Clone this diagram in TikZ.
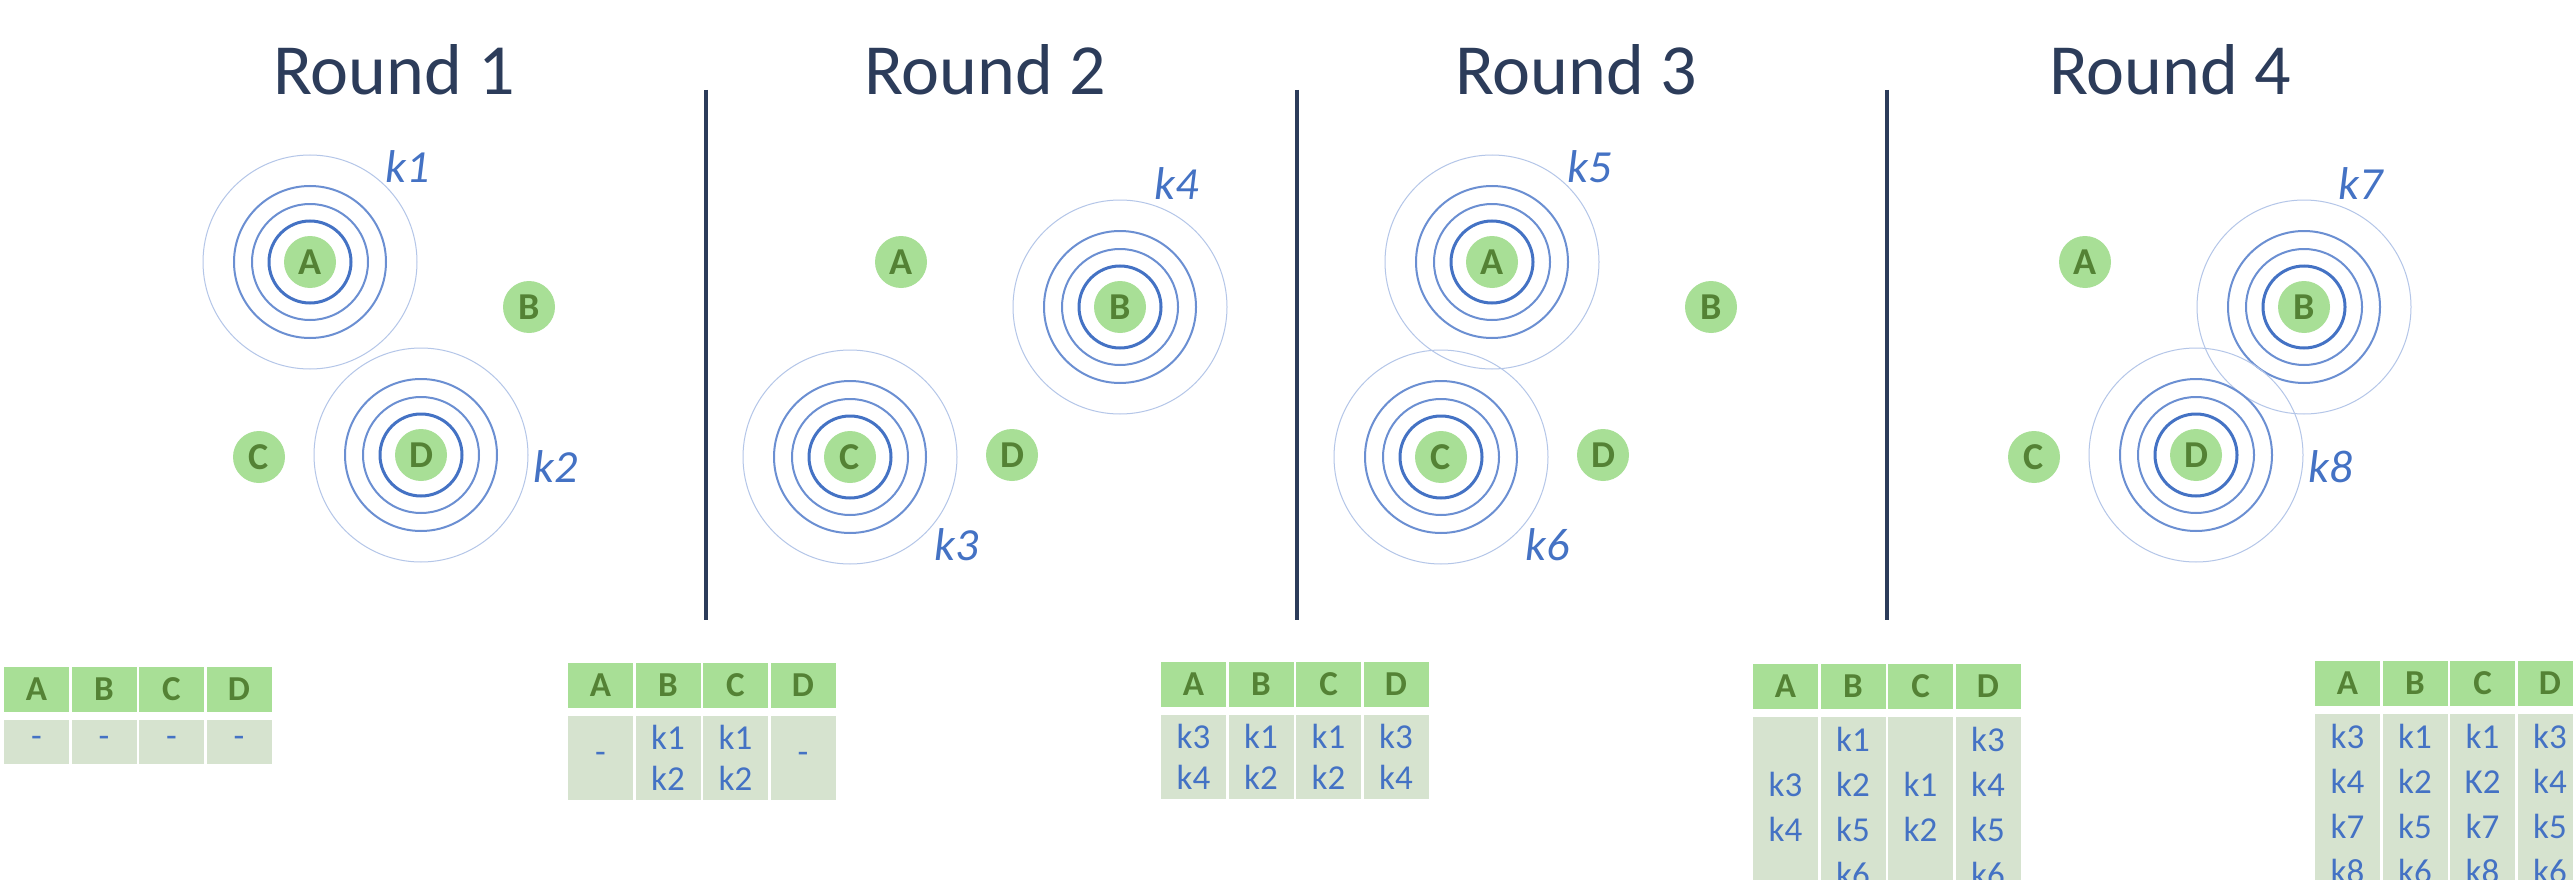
\documentclass[tikz,border=0pt]{standalone}
\usepackage{fontspec}
\setmainfont{Carlito}
\definecolor{navy}{HTML}{2C3C5A}
\definecolor{gfill}{HTML}{A8DF96}
\definecolor{gtext}{HTML}{548235}
\definecolor{bfill}{HTML}{D6E3CF}
\definecolor{kblue}{HTML}{4472C4}
\definecolor{ringmid}{HTML}{6B8FD2}
\definecolor{ringout}{HTML}{B4C6E8}
\newcommand\roundpts[2]{%
  \node[ptnode] (#1A) at (310+#2,262) {A};
  \node[ptnode] (#1B) at (529+#2,307) {B};
  \node[ptnode] (#1C) at (259+#2,457) {C};
  \node[ptnode] (#1D) at (421+#2,455) {D};}
\newcommand\ringset[1]{%
  \draw[ringa] (#1) circle[radius=41pt];
  \draw[ringb] (#1) circle[radius=58pt];
  \draw[ringb] (#1) circle[radius=76pt];
  \draw[ringc] (#1) circle[radius=107pt];}
\newcommand\headrow[3]{%
  \foreach \L [count=\i from 0] in {A,B,C,D}
    \node[hcell] (#1h\L) at (#2+32.5+67.5*\i,#3) {\L};}
\begin{document}
\begin{tikzpicture}[x=1pt,y=-1pt,
  title/.style={font=\fontsize{72}{80}\selectfont, text=navy, anchor=base, inner sep=0pt},
  ptnode/.style={circle, fill=gfill, minimum size=52pt, inner sep=0pt, text=gtext, font=\fontsize{38}{40}\selectfont\bfseries},
  klab/.style={font=\fontsize{46}{50}\selectfont\itshape, text=kblue, inner sep=0pt},
  ringa/.style={draw=kblue, line width=3pt},
  ringb/.style={draw=ringmid, line width=2pt},
  ringc/.style={draw=ringout, line width=1pt},
  sep/.style={draw=navy, line width=4.5pt},
  hcell/.style={rectangle, fill=gfill, minimum width=65pt, minimum height=45pt, inner sep=0pt, text=gtext, font=\fontsize{35}{40}\selectfont\bfseries},
  bcell/.style={rectangle, fill=bfill, minimum width=65pt, inner sep=0pt, text=kblue, align=center, font=\fontsize{35}{41}\selectfont},
  bcellL/.style={bcell, font=\fontsize{35}{45}\selectfont},
]
\useasboundingbox (0,0) rectangle (2573,880);
\fill[white] (0,0) rectangle (2573,880);
\clip (0,0) rectangle (2573,880);

% titles
\node[title] (r1) at (394,95) {Round 1};
\node[title] (r2) at (985,95) {Round 2};
\node[title] (r3) at (1576,95) {Round 3};
\node[title] (r4) at (2170,95) {Round 4};

% separators
\coordinate (s1t) at (706,90);  \coordinate (s1b) at (706,620);
\coordinate (s2t) at (1297,90); \coordinate (s2b) at (1297,620);
\coordinate (s3t) at (1887,90); \coordinate (s3b) at (1887,620);
\draw[sep] (s1t) -- (s1b);
\draw[sep] (s2t) -- (s2b);
\draw[sep] (s3t) -- (s3b);

% points
\roundpts{a}{0}
\roundpts{b}{591}
\roundpts{c}{1182}
\roundpts{d}{1775}

% rings
\ringset{aA}\ringset{aD}
\ringset{bB}\ringset{bC}
\ringset{cA}\ringset{cC}
\ringset{dB}\ringset{dD}

% key labels
\node[klab] (k1) at (408,167) {k1};
\node[klab] (k2) at (556,467) {k2};
\node[klab] (k4) at (1177,184) {k4};
\node[klab] (k3) at (957,545) {k3};
\node[klab] (k5) at (1590,167) {k5};
\node[klab] (k6) at (1548,545) {k6};
\node[klab] (k7) at (2361,184) {k7};
\node[klab] (k8) at (2331,467) {k8};

% table 1
\headrow{ta}{4}{689.5}
\node[bcell, minimum height=44pt] (tabA) at (36.5,742) {-};
\node[bcell, minimum height=44pt] (tabB) at (104,742) {-};
\node[bcell, minimum height=44pt] (tabC) at (171.5,742) {-};
\node[bcell, minimum height=44pt] (tabD) at (239,742) {-};

% table 2
\headrow{tb}{568}{685.5}
\node[bcell, minimum height=84pt] (tbbA) at (600.5,758) {-};
\node[bcell, minimum height=84pt] (tbbB) at (668,758) {k1\\k2};
\node[bcell, minimum height=84pt] (tbbC) at (735.5,758) {k1\\k2};
\node[bcell, minimum height=84pt] (tbbD) at (803,758) {-};

% table 3
\headrow{tc}{1161}{684}
\node[bcell, minimum height=84pt] (tcbA) at (1193.5,757) {k3\\k4};
\node[bcell, minimum height=84pt] (tcbB) at (1261,757) {k1\\k2};
\node[bcell, minimum height=84pt] (tcbC) at (1328.5,757) {k1\\k2};
\node[bcell, minimum height=84pt] (tcbD) at (1396,757) {k3\\k4};

% table 4
\headrow{td}{1753}{686.5}
\node[bcellL, minimum height=180pt] (tdbA) at (1785.5,807) {k3\\k4};
\node[bcellL, minimum height=180pt] (tdbB) at (1853,807) {k1\\k2\\k5\\k6};
\node[bcellL, minimum height=180pt] (tdbC) at (1920.5,807) {k1\\k2};
\node[bcellL, minimum height=180pt] (tdbD) at (1988,807) {k3\\k4\\k5\\k6};

% table 5
\headrow{te}{2315}{683.5}
\node[bcellL, minimum height=180pt] (tebA) at (2347.5,804) {k3\\k4\\k7\\k8};
\node[bcellL, minimum height=180pt] (tebB) at (2415,804) {k1\\k2\\k5\\k6};
\node[bcellL, minimum height=180pt] (tebC) at (2482.5,804) {k1\\K2\\k7\\k8};
\node[bcellL, minimum height=180pt] (tebD) at (2550,804) {k3\\k4\\k5\\k6};
\end{tikzpicture}
\end{document}
